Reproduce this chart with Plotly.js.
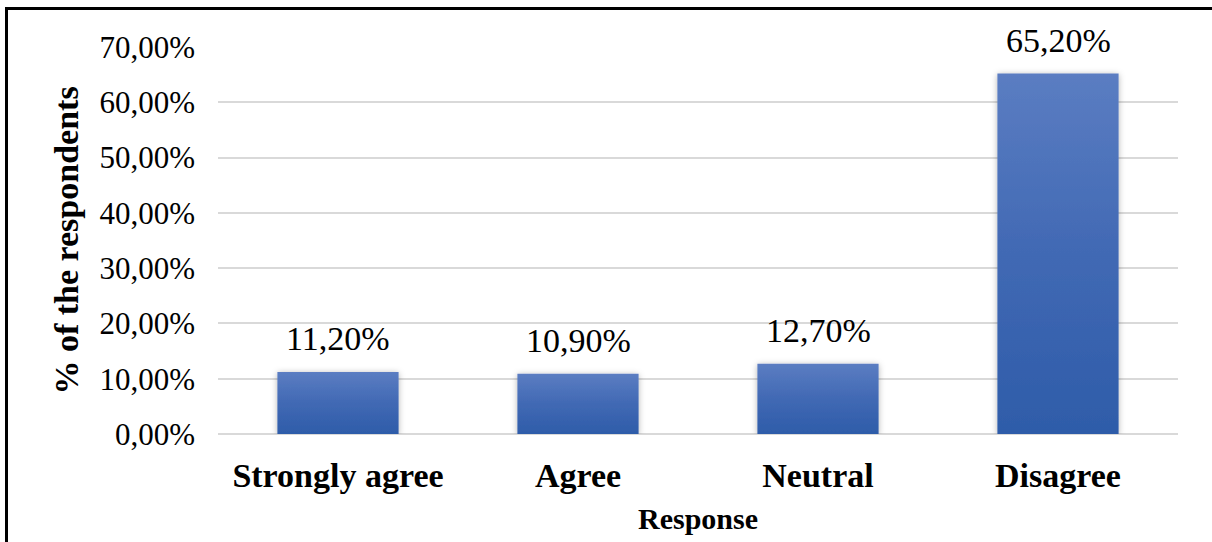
<!DOCTYPE html>
<html>
<head>
<meta charset="utf-8">
<script src="https://cdn.plot.ly/plotly-3.0.1.min.js"></script>
<style>
  html, body { margin: 0; padding: 0; background: #fff; }
  #wrap { position: relative; width: 1212px; height: 542px; overflow: hidden; }
  #chart { position: absolute; left: 0; top: 0; width: 1212px; height: 542px; }
  #frame { position: absolute; left: 5px; top: 7px; width: 1220px; height: 560px;
           border-top: 3px solid #000; border-left: 3px solid #000; pointer-events: none; }
</style>
</head>
<body>
<div id="wrap">
  <div id="chart"></div>
  <div id="frame"></div>
</div>
<script>
const categories = ["Strongly agree", "Agree", "Neutral", "Disagree"];
const values = [11.2, 10.9, 12.7, 65.2];
const valueLabels = ["11,20%", "10,90%", "12,70%", "65,20%"];
const yTickValues = [0, 10, 20, 30, 40, 50, 60, 70];
const yTickLabels = ["0,00%", "10,00%", "20,00%", "30,00%", "40,00%", "50,00%", "60,00%", "70,00%"];

const serif = "'Liberation Serif', 'Times New Roman', serif";

const trace = {
  type: "bar",
  x: categories,
  y: values,
  width: 0.505,
  marker: { color: "#4472c4", line: { width: 0 } },
  hoverinfo: "none"
};

const annotations = categories.map((c, i) => ({
  x: c, y: values[i], xref: "x", yref: "y",
  text: valueLabels[i], showarrow: false,
  yanchor: "bottom", yshift: 13,
  font: { family: serif, size: 34, color: "#000" }
}));

const layout = {
  width: 1212, height: 542,
  margin: { l: 218, r: 34, t: 47, b: 108 },
  paper_bgcolor: "#fff", plot_bgcolor: "#fff",
  showlegend: false,
  bargap: 0.495,
  xaxis: {
    type: "category",
    tickfont: { family: serif, size: 34, color: "#000", weight: "bold" },
    showline: false, showgrid: false, zeroline: false, ticks: "",
    ticklabelstandoff: 18,
    title: { text: "<b>Response</b>", font: { family: serif, size: 30, color: "#000" }, standoff: 14 }
  },
  yaxis: {
    range: [0, 70],
    tickmode: "array",
    tickvals: yTickValues,
    ticktext: yTickLabels,
    tickfont: { family: serif, size: 31, color: "#000" },
    showgrid: true, gridcolor: "#d9d9d9", gridwidth: 2,
    zeroline: true, zerolinecolor: "#d9d9d9", zerolinewidth: 2,
    showline: false, ticks: "",
    ticklabelstandoff: 22,
    title: { text: "<b>% of the respondents</b>", font: { family: serif, size: 34, color: "#000" }, standoff: 10 }
  },
  annotations: annotations
};

Plotly.newPlot("chart", [trace], layout, { displayModeBar: false, staticPlot: true }).then(gd => {
  const svg = gd.querySelector("svg.main-svg");
  const ns = "http://www.w3.org/2000/svg";
  let defs = svg.querySelector("defs");
  if (!defs) { defs = document.createElementNS(ns, "defs"); svg.insertBefore(defs, svg.firstChild); }
  const grad = document.createElementNS(ns, "linearGradient");
  grad.setAttribute("id", "barGrad");
  grad.setAttribute("x1", "0"); grad.setAttribute("y1", "0");
  grad.setAttribute("x2", "0"); grad.setAttribute("y2", "1");
  [["0", "#5b7dc2"], ["0.5", "#4169b4"], ["1", "#2e5ca9"]].forEach(([o, c]) => {
    const s = document.createElementNS(ns, "stop");
    s.setAttribute("offset", o); s.setAttribute("stop-color", c);
    grad.appendChild(s);
  });
  defs.appendChild(grad);
  const filt = document.createElementNS(ns, "filter");
  filt.setAttribute("id", "barShadow");
  filt.setAttribute("x", "-20%"); filt.setAttribute("y", "-20%");
  filt.setAttribute("width", "140%"); filt.setAttribute("height", "140%");
  const ds = document.createElementNS(ns, "feDropShadow");
  ds.setAttribute("dx", "0"); ds.setAttribute("dy", "1");
  ds.setAttribute("stdDeviation", "3"); ds.setAttribute("flood-color", "#000");
  ds.setAttribute("flood-opacity", "0.3");
  filt.appendChild(ds);
  defs.appendChild(filt);
  gd.querySelectorAll(".barlayer .point path").forEach(p => {
    p.style.fill = "url(#barGrad)";
    p.setAttribute("filter", "url(#barShadow)");
  });
});
</script>
</body>
</html>
